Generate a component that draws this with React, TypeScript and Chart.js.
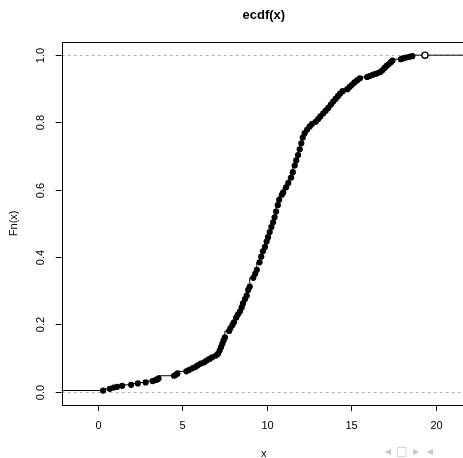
import { useEffect, useRef } from "react";
import { Chart, registerables } from "chart.js";

Chart.register(...registerables);

const xValues = [
  0.32, 0.72, 0.95, 1.15, 1.45, 1.98, 2.38, 2.84, 3.25, 3.42, 3.52, 3.6,
  4.52, 4.62, 4.72, 5.25, 5.4, 5.6, 5.78, 5.92, 6.1, 6.3, 6.45, 6.62, 6.78,
  7.0, 7.12, 7.22, 7.3, 7.38, 7.45, 7.53, 7.78, 7.85, 7.98, 8.06, 8.2, 8.3,
  8.42, 8.52, 8.6, 8.72, 8.82, 8.91, 9.0, 9.21, 9.32, 9.42, 9.58, 9.68, 9.78,
  9.9, 10.0, 10.08, 10.18, 10.28, 10.38, 10.47, 10.56, 10.66, 10.74, 10.9,
  10.98, 11.15, 11.28, 11.45, 11.55, 11.66, 11.75, 11.86, 11.96, 12.05,
  12.14, 12.25, 12.4, 12.55, 12.68, 12.9, 13.05, 13.18, 13.35, 13.5, 13.65,
  13.8, 13.94, 14.08, 14.22, 14.35, 14.5, 14.78, 14.92, 15.05, 15.2, 15.35,
  15.52, 15.95, 16.1, 16.25, 16.4, 16.55, 16.72, 16.85, 16.98, 17.1, 17.22,
  17.35, 17.45, 17.95, 18.1, 18.25, 18.45, 18.62, 19.37,
];
const fnValues = [
  0.003, 0.008, 0.012, 0.014, 0.017, 0.02, 0.024, 0.027, 0.031, 0.034, 0.036,
  0.039, 0.047, 0.05, 0.054, 0.06, 0.064, 0.069, 0.073, 0.078, 0.083, 0.087,
  0.092, 0.097, 0.102, 0.107, 0.112, 0.122, 0.132, 0.142, 0.152, 0.161, 0.18,
  0.188, 0.198, 0.206, 0.22, 0.229, 0.238, 0.25, 0.262, 0.275, 0.285, 0.302,
  0.312, 0.338, 0.35, 0.362, 0.384, 0.401, 0.417, 0.43, 0.446, 0.459, 0.474,
  0.489, 0.503, 0.518, 0.535, 0.554, 0.57, 0.585, 0.592, 0.607, 0.62, 0.636,
  0.652, 0.672, 0.687, 0.703, 0.72, 0.738, 0.755, 0.768, 0.779, 0.788, 0.795,
  0.802, 0.81, 0.818, 0.827, 0.835, 0.843, 0.853, 0.862, 0.87, 0.878, 0.886,
  0.893, 0.899, 0.906, 0.912, 0.919, 0.925, 0.931, 0.935, 0.938, 0.941,
  0.944, 0.946, 0.95, 0.955, 0.962, 0.968, 0.973, 0.979, 0.984, 0.988, 0.991,
  0.993, 0.995, 0.997, 1.0,
];

const xTicks = [0, 5, 10, 15, 20];
const xTickLabels = ["0", "5", "10", "15", "20"];
const yTicks = [0, 0.2, 0.4, 0.6, 0.8, 1.0];
const yTickLabels = ["0.0", "0.2", "0.4", "0.6", "0.8", "1.0"];
const refLines = [0, 1];
const titleText = "ecdf(x)";
const xLabel = "x";
const yLabel = "Fn(x)";
const navSymbols = ["◂", "□", "▸", "◂"];

const X_MIN = -2.13;
const X_MAX = 21.8;
const Y_MIN = -0.04;
const Y_MAX = 1.04;

const FONT = "'Liberation Sans', Arial, Helvetica, sans-serif";

const rPlot = {
  id: "rPlot",
  beforeDatasetsDraw(chart: any) {
    const { ctx, chartArea: a, scales } = chart;
    const y = scales.y;
    ctx.save();
    ctx.strokeStyle = "#b4b4b4";
    ctx.lineWidth = 1;
    ctx.setLineDash([3, 3]);
    refLines.forEach((v) => {
      const py = Math.round(y.getPixelForValue(v)) + 0.5;
      ctx.beginPath();
      ctx.moveTo(a.left, py);
      ctx.lineTo(a.right, py);
      ctx.stroke();
    });
    ctx.restore();
  },
  afterDraw(chart: any) {
    const { ctx, chartArea: a, scales } = chart;
    const x = scales.x;
    const y = scales.y;
    ctx.save();
    // box
    ctx.strokeStyle = "#000";
    ctx.lineWidth = 1;
    ctx.strokeRect(
      Math.round(a.left) + 0.5,
      Math.round(a.top) + 0.5,
      Math.round(a.right - a.left),
      Math.round(a.bottom - a.top)
    );
    // x ticks
    ctx.fillStyle = "#000";
    ctx.font = `11px ${FONT}`;
    ctx.textAlign = "center";
    ctx.textBaseline = "middle";
    xTicks.forEach((v, i) => {
      const px = Math.round(x.getPixelForValue(v)) + 0.5;
      ctx.beginPath();
      ctx.moveTo(px, a.bottom);
      ctx.lineTo(px, a.bottom + 6);
      ctx.stroke();
      ctx.fillText(xTickLabels[i], px, a.bottom + 21);
    });
    // y ticks
    yTicks.forEach((v, i) => {
      const py = Math.round(y.getPixelForValue(v)) + 0.5;
      ctx.beginPath();
      ctx.moveTo(a.left - 6, py);
      ctx.lineTo(a.left, py);
      ctx.stroke();
      ctx.save();
      ctx.translate(a.left - 21, py);
      ctx.rotate(-Math.PI / 2);
      ctx.fillText(yTickLabels[i], 0, 0);
      ctx.restore();
    });
    // axis titles
    const cx = (a.left + a.right) / 2;
    const cy = (a.top + a.bottom) / 2;
    ctx.fillText(xLabel, cx, 454);
    ctx.save();
    ctx.translate(14, cy);
    ctx.rotate(-Math.PI / 2);
    ctx.fillText(yLabel, 0, 0);
    ctx.restore();
    // main title
    ctx.font = `bold 13px ${FONT}`;
    ctx.fillText(titleText, cx, 15);
    // navigation symbols
    ctx.font = `12px 'DejaVu Sans', sans-serif`;
    ctx.fillStyle = "#c3c7da";
    navSymbols.forEach((s, i) => {
      ctx.fillText(s, 388 + i * 14, 452);
    });
    ctx.restore();
  },
};

export default function App() {
  const ref = useRef<HTMLCanvasElement | null>(null);

  useEffect(() => {
    if (!ref.current) return;
    const pts = xValues.map((v, i) => ({ x: v, y: fnValues[i] }));
    const data = [
      { x: X_MIN - 1, y: 0 },
      ...pts,
      { x: X_MAX + 1, y: 1 },
    ];
    const last = data.length - 1;
    const chart = new Chart(ref.current, {
      type: "line",
      data: {
        datasets: [
          {
            data,
            stepped: "after",
            borderColor: "#000",
            borderWidth: 1,
            pointRadius: (c: any) =>
              c.dataIndex === 0 || c.dataIndex === last ? 0 : 3.1,
            pointBackgroundColor: (c: any) =>
              c.dataIndex === last - 1 ? "#fff" : "#000",
            pointBorderColor: "#000",
            pointBorderWidth: (c: any) => (c.dataIndex === last - 1 ? 1.3 : 0),
            pointHoverRadius: 0,
          } as any,
        ],
      },
      options: {
        animation: false,
        responsive: false,
        maintainAspectRatio: false,
        events: [],
        layout: { padding: { left: 0, right: 4, top: 41.7, bottom: 0 } },
        plugins: {
          legend: { display: false },
          title: { display: false },
          tooltip: { enabled: false },
        },
        scales: {
          x: {
            type: "linear",
            min: X_MIN,
            max: X_MAX,
            grid: { display: false },
            border: { display: false },
            ticks: { display: false },
            afterFit: (s: any) => {
              s.height = 53;
            },
          },
          y: {
            type: "linear",
            min: Y_MIN,
            max: Y_MAX,
            grid: { display: false },
            border: { display: false },
            ticks: { display: false },
            afterFit: (s: any) => {
              s.width = 61.7;
            },
          },
        },
      },
      plugins: [rPlot],
    });
    return () => chart.destroy();
  }, []);

  return (
    <div
      style={{
        position: "fixed",
        left: 0,
        top: 0,
        width: 463,
        height: 458,
        overflow: "hidden",
        background: "#fff",
      }}
    >
      <canvas
        ref={ref}
        width={470}
        height={458}
        style={{ width: 470, height: 458, display: "block" }}
      />
    </div>
  );
}
